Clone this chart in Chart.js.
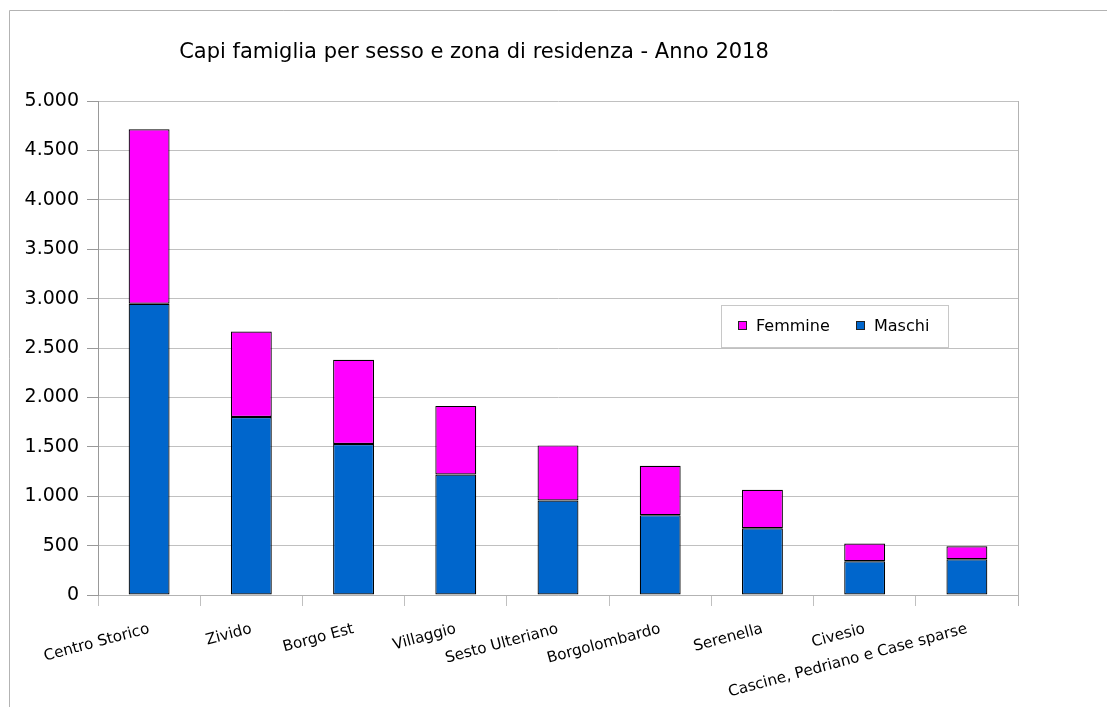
<!DOCTYPE html>
<html>
<head>
<meta charset="utf-8">
<script src="https://cdn.jsdelivr.net/npm/chart.js@4/dist/chart.umd.min.js"></script>
<style>
html,body{margin:0;padding:0;background:#fff;}
#wrap{width:1107px;height:707px;position:relative;}
</style>
</head>
<body>
<div id="wrap"><canvas id="c" width="1107" height="707"></canvas></div>
<script>
const chartTitle = 'Capi famiglia per sesso e zona di residenza - Anno 2018';
const categories = ['Centro Storico','Zivido','Borgo Est','Villaggio','Sesto Ulteriano','Borgolombardo','Serenella','Civesio','Cascine, Pedriano e Case sparse'];
const maschi  = [2948, 1802, 1528, 1220, 956, 808, 676, 342, 362];
const femmine = [1765,  865,  852,  694, 558, 500, 389, 178, 132];
const yMin = 0;
const yMax = 5000;
const yStep = 500;

const FONT = 'DejaVu Sans';

function fmt(v){ return String(v).replace(/\B(?=(\d{3})+(?!\d))/g, '.'); }

const decor = {
  id: 'decor',
  beforeDraw(chart){
    const ctx = chart.ctx;
    ctx.save();
    ctx.fillStyle = '#fff';
    ctx.fillRect(0,0,chart.width,chart.height);
    ctx.strokeStyle = '#b3b3b3';
    ctx.lineWidth = 1;
    ctx.beginPath();
    ctx.moveTo(9.5, chart.height);
    ctx.lineTo(9.5, 10.5);
    ctx.lineTo(chart.width, 10.5);
    ctx.stroke();
    ctx.restore();
  },
  afterDatasetsDraw(chart){
    const ctx = chart.ctx;
    const a = chart.chartArea;
    ctx.save();
    ctx.strokeStyle = '#b3b3b3';
    ctx.lineWidth = 1;
    ctx.beginPath();
    ctx.moveTo(Math.round(a.right)+0.5, a.top);
    ctx.lineTo(Math.round(a.right)+0.5, a.bottom + 11);
    ctx.stroke();
    ctx.fillStyle = '#000';
    ctx.font = '21px "' + FONT + '"';
    ctx.textAlign = 'center';
    ctx.textBaseline = 'middle';
    ctx.fillText(chartTitle, 474, 53);
    const lx = 721, ly = 305, lw = 227, lh = 42;
    ctx.fillStyle = '#fff';
    ctx.fillRect(lx, ly, lw, lh);
    ctx.strokeStyle = '#c8c8c8';
    ctx.strokeRect(lx + 0.5, ly + 0.5, lw, lh);
    const order = [1, 0];
    const xs = [738, 856];
    ctx.font = '16px "' + FONT + '"';
    ctx.textAlign = 'left';
    ctx.textBaseline = 'middle';
    order.forEach((di, k) => {
      const ds = chart.data.datasets[di];
      const x = xs[k];
      const cy = 326;
      ctx.fillStyle = ds.backgroundColor;
      ctx.fillRect(x, cy - 5, 9, 9);
      ctx.strokeStyle = '#222';
      ctx.strokeRect(x + 0.5, cy - 4.5, 8, 8);
      ctx.fillStyle = '#000';
      ctx.fillText(ds.label, x + 18, cy + 1);
    });
    ctx.restore();
  }
};

new Chart(document.getElementById('c'), {
  type: 'bar',
  data: {
    labels: categories,
    datasets: [
      { label: 'Maschi', data: maschi, backgroundColor: '#0066cc', borderColor: '#000', borderWidth: 1.2, borderSkipped: false },
      { label: 'Femmine', data: femmine, backgroundColor: '#ff00ff', borderColor: '#000', borderWidth: 1.2, borderSkipped: false }
    ]
  },
  options: {
    responsive: false,
    animation: false,
    devicePixelRatio: 1,
    layout: { padding: { left: 0, right: 89, top: 101, bottom: 0 } },
    datasets: { bar: { categoryPercentage: 1, barPercentage: 0.4 } },
    plugins: {
      legend: { display: false },
      title: { display: false },
      tooltip: { enabled: false }
    },
    scales: {
      x: {
        stacked: true,
        grid: { offset: true, drawOnChartArea: false, drawTicks: true, tickLength: 11, color: '#c0c0c0', tickColor: '#c0c0c0' },
        border: { color: '#b3b3b3' },
        ticks: {
          autoSkip: false, minRotation: 15, maxRotation: 15, padding: 14,
          color: '#000', font: { family: FONT, size: 15.2 }
        },
        afterFit(s){ s.height = 112; }
      },
      y: {
        stacked: true,
        min: yMin, max: yMax,
        grid: { color: '#c0c0c0', tickLength: 11, tickColor: '#999' },
        border: { color: '#999' },
        ticks: {
          stepSize: yStep, padding: 8, color: '#000',
          font: { family: FONT, size: 19 },
          callback: v => fmt(v)
        },
        afterFit(s){ s.width = 98; }
      }
    }
  },
  plugins: [decor]
});
</script>
</body>
</html>
